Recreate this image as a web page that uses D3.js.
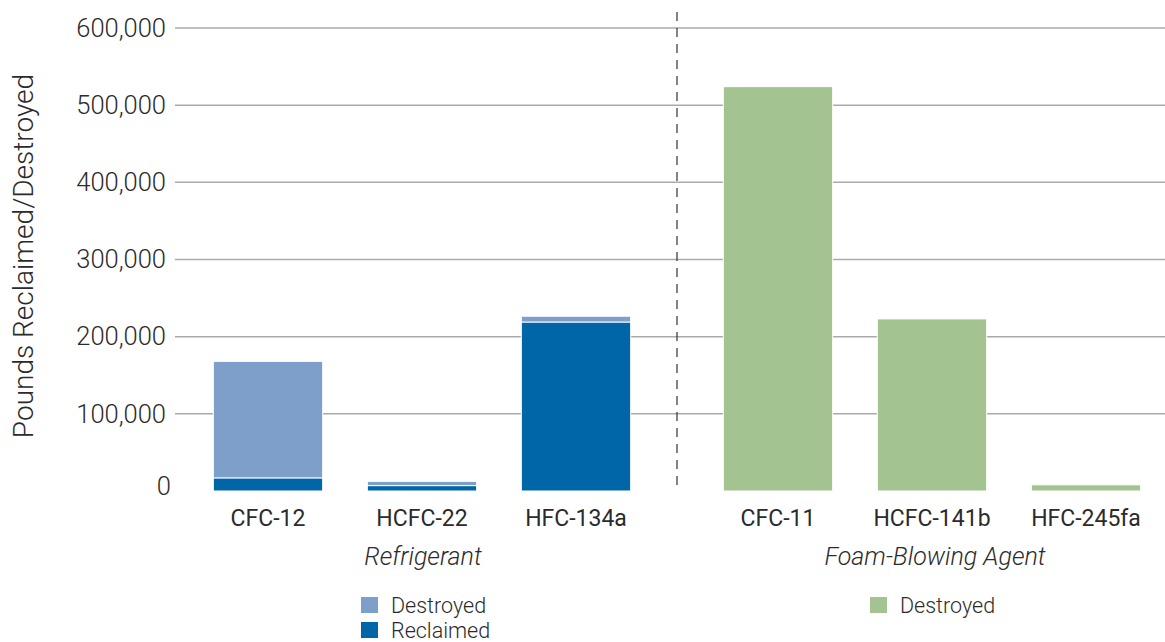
<!DOCTYPE html>
<html>
<head>
<meta charset="utf-8">
<script src="https://cdn.jsdelivr.net/npm/d3@7"></script>
<style>
  body { margin: 0; background: #fff; }
  svg text { font-family: Roboto, "Liberation Sans", sans-serif; fill: #2b2b2b; }
</style>
</head>
<body>
<svg id="chart" width="1165" height="642"></svg>
<script>
// data
const refrigerants = ["CFC-12", "HCFC-22", "HFC-134a"];
const refReclaimed = [17000, 7000, 219000];
const refDestroyed = [151000, 5500, 7500];
const foamAgents = ["CFC-11", "HCFC-141b", "HFC-245fa"];
const foamDestroyed = [524000, 223000, 8000];
const groupLabels = ["Refrigerant", "Foam-Blowing Agent"];
const yTicks = [0, 100000, 200000, 300000, 400000, 500000, 600000];

const colors = { destroyed: "#7f9fcb", reclaimed: "#0066a8", foam: "#a3c490" };

const svg = d3.select("#chart");
const gridLeft = 175, gridRight = 1165;

const y = d3.scaleLinear().domain([0, 600000]).range([491, 28]);

const xRef = d3.scaleBand().domain(refrigerants).range([191, 653]).paddingInner(0.29).paddingOuter(0.145);
const xFoam = d3.scaleBand().domain(foamAgents).range([701, 1163]).paddingInner(0.29).paddingOuter(0.145);

// grid lines (no line at zero)
svg.append("g").selectAll("line")
    .data(yTicks.filter(d => d > 0))
    .join("line")
    .attr("x1", gridLeft).attr("x2", gridRight)
    .attr("y1", d => y(d)).attr("y2", d => y(d))
    .attr("stroke", "#aaa").attr("stroke-width", 1.5);

// y axis labels
const yAxis = svg.append("g")
    .attr("transform", "translate(" + gridLeft + ",0)")
    .call(d3.axisLeft(y).tickValues(yTicks).tickFormat(d3.format(",")).tickSize(0).tickPadding(9));
yAxis.select(".domain").remove();
yAxis.selectAll("text")
    .style("font-size", "25.5px").style("font-weight", 300)
    .attr("fill", "#2b2b2b");
yAxis.selectAll(".tick").filter(d => d === 0).select("text").attr("dy", "0.15em").attr("x", -4);

svg.append("text")
    .attr("transform", "translate(33,256) rotate(-90)")
    .attr("text-anchor", "middle")
    .style("font-size", "28px").style("font-weight", 300)
    .text("Pounds Reclaimed/Destroyed");

// divider
svg.append("line")
    .attr("x1", 677).attr("x2", 677).attr("y1", 12).attr("y2", 491)
    .attr("stroke", "#333").attr("stroke-width", 1.2)
    .attr("stroke-dasharray", "9,7");

// refrigerant stacks
const refRows = refrigerants.map((c, i) => ({ cat: c, reclaimed: refReclaimed[i], destroyed: refDestroyed[i] }));
const stack = d3.stack().keys(["reclaimed", "destroyed"])(refRows);

svg.append("g").selectAll("g")
    .data(stack)
    .join("g")
    .attr("fill", d => colors[d.key])
    .selectAll("rect")
    .data(d => d)
    .join("rect")
    .attr("x", d => xRef(d.data.cat))
    .attr("width", xRef.bandwidth())
    .attr("y", d => y(d[1]))
    .attr("height", d => y(d[0]) - y(d[1]))
    .attr("stroke", "#fff").attr("stroke-width", 1);

// foam bars
svg.append("g").selectAll("rect")
    .data(foamAgents.map((c, i) => ({ cat: c, v: foamDestroyed[i] })))
    .join("rect")
    .attr("x", d => xFoam(d.cat))
    .attr("width", xFoam.bandwidth())
    .attr("y", d => y(d.v))
    .attr("height", d => y(0) - y(d.v))
    .attr("fill", colors.foam)
    .attr("stroke", "#fff").attr("stroke-width", 1);

// category labels
function catLabels(scale, cats) {
    svg.append("g").selectAll("text")
        .data(cats)
        .join("text")
        .attr("x", d => scale(d) + scale.bandwidth() / 2)
        .attr("y", 526)
        .attr("text-anchor", "middle")
        .style("font-size", "23px").style("font-weight", 400)
        .text(d => d);
}
catLabels(xRef, refrigerants);
catLabels(xFoam, foamAgents);

// group labels
svg.append("g").selectAll("text")
    .data(groupLabels)
    .join("text")
    .attr("x", (d, i) => i === 0 ? (xRef.range()[0] + xRef.range()[1]) / 2 + 1 : (xFoam.range()[0] + xFoam.range()[1]) / 2 + 3)
    .attr("y", 565)
    .attr("text-anchor", "middle")
    .style("font-size", "25px").style("font-style", "italic").style("font-weight", 300)
    .text(d => d);

// legends
const legendItems = [
    { x: 361, y: 597, color: colors.destroyed, label: "Destroyed" },
    { x: 361, y: 622, color: colors.reclaimed, label: "Reclaimed" },
    { x: 870, y: 597, color: colors.foam, label: "Destroyed" }
];
const lg = svg.append("g").selectAll("g").data(legendItems).join("g")
    .attr("transform", d => "translate(" + d.x + "," + d.y + ")");
lg.append("rect").attr("width", 17).attr("height", 16).attr("fill", d => d.color);
lg.append("text").attr("x", 30).attr("y", 8).attr("dy", "0.35em")
    .style("font-size", "21.5px").style("font-weight", 300)
    .text(d => d.label);
</script>
</body>
</html>
